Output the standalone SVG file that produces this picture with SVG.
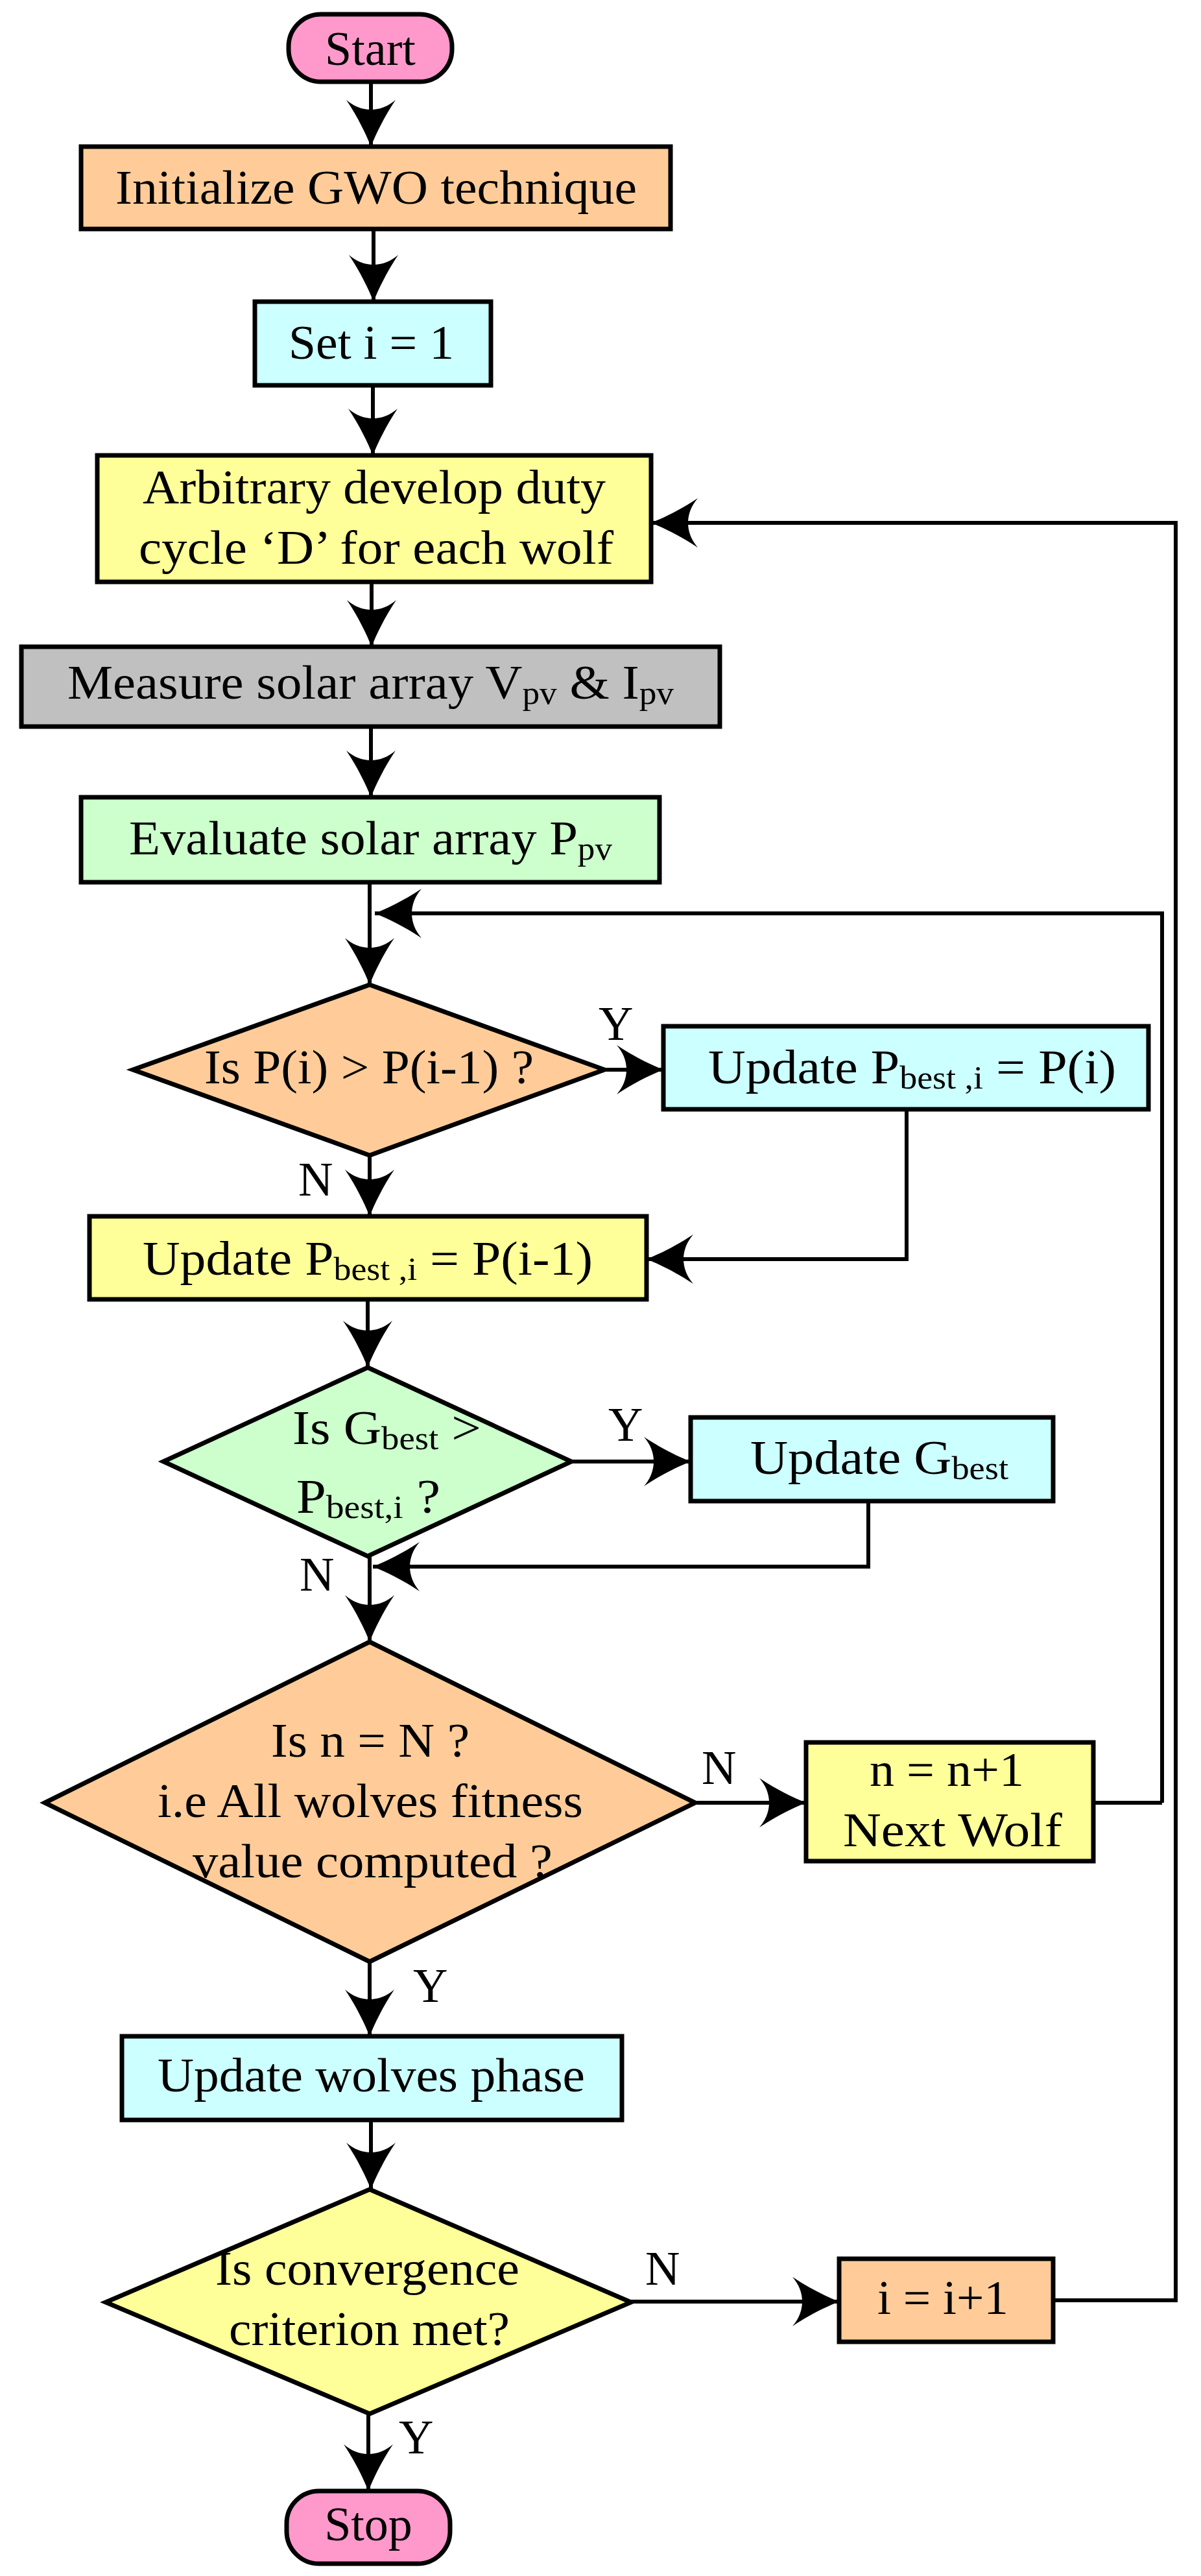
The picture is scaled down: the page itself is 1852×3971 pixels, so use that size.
<svg xmlns="http://www.w3.org/2000/svg" width="1852" height="3971" viewBox="0 0 1852 3971">
<style>
.n{stroke:#000;stroke-width:7}
.t{font-family:"Liberation Serif","Times New Roman",serif;font-size:74px;fill:#000}
.s{font-size:50px}
.c{fill:none;stroke:#000;stroke-width:6}
.or{fill:#FFCC99}.cy{fill:#CCFFFF}.ye{fill:#FFFF99}.gr{fill:#C0C0C0}.gn{fill:#CCFFCC}.pk{fill:#FF99CC}
</style>
<defs>
<marker id="a" markerUnits="userSpaceOnUse" viewBox="-74 -40 76 80" refX="0" refY="0" markerWidth="76" markerHeight="80" orient="auto">
<path d="M0,0 C-20,-8 -45,-20 -72,-38 C-52,-15 -52,15 -72,38 C-45,20 -20,8 0,0 Z" fill="#000"/>
</marker>
</defs>
<g id="connectors">
<path class="c" d="M572,126 V226" marker-end="url(#a)"/>
<path class="c" d="M576,353 V465" marker-end="url(#a)"/>
<path class="c" d="M575,594 V702" marker-end="url(#a)"/>
<path class="c" d="M573,897 V997" marker-end="url(#a)"/>
<path class="c" d="M572,1120 V1229" marker-end="url(#a)"/>
<path class="c" d="M570,1360 V1518" marker-end="url(#a)"/>
<path class="c" d="M1792,2779 V1408 H578" marker-end="url(#a)"/>
<path class="c" d="M932,1649 H1023" marker-end="url(#a)"/>
<path class="c" d="M1398,1710 V1941 H997" marker-end="url(#a)"/>
<path class="c" d="M570,1781 V1875" marker-end="url(#a)"/>
<path class="c" d="M567,2003 V2108" marker-end="url(#a)"/>
<path class="c" d="M881,2253 H1065" marker-end="url(#a)"/>
<path class="c" d="M1339,2314 V2415 H575" marker-end="url(#a)"/>
<path class="c" d="M570,2399 V2531" marker-end="url(#a)"/>
<path class="c" d="M1072,2779 H1243" marker-end="url(#a)"/>
<path class="c" d="M1686,2779 H1792"/>
<path class="c" d="M570,3024 V3139" marker-end="url(#a)"/>
<path class="c" d="M572,3268 V3375" marker-end="url(#a)"/>
<path class="c" d="M973,3548 H1294" marker-end="url(#a)"/>
<path class="c" d="M1624,3546 H1813 V806 H1004" marker-end="url(#a)"/>
<path class="c" d="M568,3721 V3840" marker-end="url(#a)"/>
</g>
<g id="labels" class="t">
<text x="923" y="1603">Y</text>
<text x="460" y="1843">N</text>
<text x="938" y="2221">Y</text>
<text x="462" y="2452">N</text>
<text x="1082" y="2750">N</text>
<text x="637" y="3086">Y</text>
<text x="995" y="3522">N</text>
<text x="615" y="3782">Y</text>
</g>
<g id="start"><rect class="n pk" x="445" y="22" width="252" height="104" rx="50"/><text class="t" x="571" y="100" text-anchor="middle">Start</text></g>
<g id="init"><rect class="n or" x="125" y="226" width="909" height="127"/><text class="t" x="178" y="314" textLength="804" lengthAdjust="spacingAndGlyphs">Initialize GWO technique</text></g>
<g id="seti"><rect class="n cy" x="393" y="465" width="364" height="129"/><text class="t" x="445" y="553" textLength="255" lengthAdjust="spacingAndGlyphs">Set i = 1</text></g>
<g id="arb"><rect class="n ye" x="150" y="702" width="854" height="195"/><text class="t" x="220" y="776" textLength="714" lengthAdjust="spacingAndGlyphs">Arbitrary develop duty</text><text class="t" x="214" y="869" textLength="732" lengthAdjust="spacingAndGlyphs">cycle ‘D’ for each wolf</text></g>
<g id="measure"><rect class="n gr" x="33" y="997" width="1077" height="123"/><text class="t" x="104" y="1077" textLength="935" lengthAdjust="spacingAndGlyphs">Measure solar array V<tspan class="s" dy="8">pv</tspan><tspan dy="-8"> &amp; I</tspan><tspan class="s" dy="8">pv</tspan></text></g>
<g id="eval"><rect class="n gn" x="125" y="1229" width="892" height="131"/><text class="t" x="199" y="1317" textLength="745" lengthAdjust="spacingAndGlyphs">Evaluate solar array P<tspan class="s" dy="8">pv</tspan></text></g>
<g id="d1"><polygon class="n or" points="570,1518 932,1649 570,1781 205,1649"/><text class="t" x="315" y="1670" textLength="508" lengthAdjust="spacingAndGlyphs">Is P(i) &gt; P(i-1) ?</text></g>
<g id="upd1"><rect class="n cy" x="1023" y="1582" width="748" height="128"/><text class="t" x="1092" y="1670" textLength="629" lengthAdjust="spacingAndGlyphs">Update P<tspan class="s" dy="8">best ,i</tspan><tspan dy="-8"> = P(i)</tspan></text></g>
<g id="upd2"><rect class="n ye" x="138" y="1875" width="859" height="128"/><text class="t" x="220" y="1965" textLength="694" lengthAdjust="spacingAndGlyphs">Update P<tspan class="s" dy="8">best ,i</tspan><tspan dy="-8"> = P(i-1)</tspan></text></g>
<g id="d2"><polygon class="n gn" points="567,2108 881,2253 567,2399 252,2253"/><text class="t" x="451" y="2226" textLength="291" lengthAdjust="spacingAndGlyphs">Is G<tspan class="s" dy="8">best</tspan><tspan dy="-8"> &gt;</tspan></text><text class="t" x="457" y="2332" textLength="222" lengthAdjust="spacingAndGlyphs">P<tspan class="s" dy="8">best,i</tspan><tspan dy="-8"> ?</tspan></text></g>
<g id="updg"><rect class="n cy" x="1065" y="2185" width="559" height="129"/><text class="t" x="1157" y="2272" textLength="398" lengthAdjust="spacingAndGlyphs">Update G<tspan class="s" dy="8">best</tspan></text></g>
<g id="d3"><polygon class="n or" points="570,2531 1072,2779 570,3024 69,2779"/><text class="t" x="418" y="2708" textLength="306" lengthAdjust="spacingAndGlyphs">Is n = N ?</text><text class="t" x="243" y="2801" textLength="656" lengthAdjust="spacingAndGlyphs">i.e All wolves fitness</text><text class="t" x="297" y="2894" textLength="555" lengthAdjust="spacingAndGlyphs">value computed ?</text></g>
<g id="next"><rect class="n ye" x="1243" y="2686" width="443" height="183"/><text class="t" x="1341" y="2753" textLength="238" lengthAdjust="spacingAndGlyphs">n = n+1</text><text class="t" x="1300" y="2846" textLength="338" lengthAdjust="spacingAndGlyphs">Next Wolf</text></g>
<g id="updw"><rect class="n cy" x="188" y="3139" width="771" height="129"/><text class="t" x="243" y="3224" textLength="659" lengthAdjust="spacingAndGlyphs">Update wolves phase</text></g>
<g id="d4"><polygon class="n ye" points="570,3375 973,3549 570,3721 163,3549"/><text class="t" x="332" y="3522" textLength="469" lengthAdjust="spacingAndGlyphs">Is convergence</text><text class="t" x="353" y="3615" textLength="433" lengthAdjust="spacingAndGlyphs">criterion met?</text></g>
<g id="inc"><rect class="n or" x="1294" y="3482" width="330" height="128"/><text class="t" x="1353" y="3567" textLength="202" lengthAdjust="spacingAndGlyphs">i = i+1</text></g>
<g id="stop"><rect class="n pk" x="442" y="3840" width="252" height="112" rx="50"/><text class="t" x="568" y="3916" text-anchor="middle">Stop</text></g>
</svg>
